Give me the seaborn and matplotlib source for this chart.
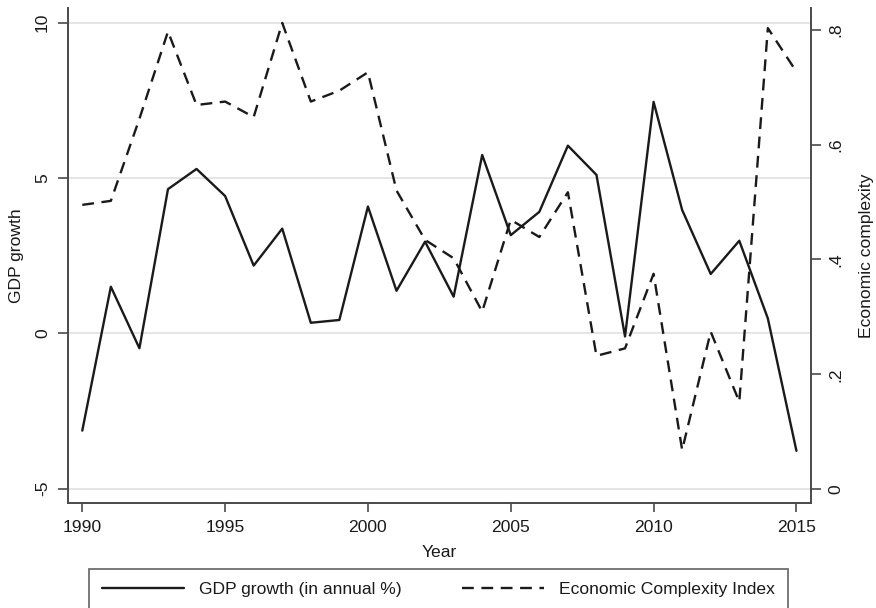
import matplotlib
matplotlib.use("Agg")
import matplotlib.pyplot as plt
import seaborn as sns
import pandas as pd

# Annual series
years = list(range(1990, 2016))
gdp_growth = [-3.13, 1.50, -0.48, 4.64, 5.29, 4.42, 2.18, 3.37, 0.34, 0.43,
              4.08, 1.37, 2.95, 1.18, 5.74, 3.16, 3.91, 6.04, 5.10, -0.10,
              7.45, 3.97, 1.91, 2.98, 0.48, -3.78]
eci = [0.495, 0.502, 0.645, 0.797, 0.669, 0.675, 0.648, 0.812, 0.675, 0.694,
       0.726, 0.520, 0.434, 0.402, 0.309, 0.469, 0.439, 0.517, 0.232, 0.245,
       0.375, 0.068, 0.274, 0.152, 0.803, 0.727]

x_ticks = [1990, 1995, 2000, 2005, 2010, 2015]
left_ticks = [-5, 0, 5, 10]
left_labels = ["-5", "0", "5", "10"]
right_ticks = [0, 0.2, 0.4, 0.6, 0.8]
right_labels = ["0", ".2", ".4", ".6", ".8"]

df = pd.DataFrame({"Year": years, "gdp": gdp_growth, "eci": eci})

sns.set_theme(style="white")
plt.rcParams["font.family"] = ["Liberation Sans", "DejaVu Sans"]

ink = "#1a1a1a"
axis_col = "#4a4a4a"
fs = 12.6

fig = plt.figure(figsize=(8.76, 6.08), dpi=100)
ax = fig.add_axes([68 / 876, 105 / 608, (810.7 - 68) / 876, (503 - 8) / 608])
ax2 = ax.twinx()

sns.lineplot(data=df, x="Year", y="gdp", ax=ax, color=ink, linewidth=1.7,
             label="GDP growth (in annual %)", legend=False)
sns.lineplot(data=df, x="Year", y="eci", ax=ax2, color=ink, linewidth=1.7,
             linestyle=(0, (5, 3.2)), label="Economic Complexity Index",
             legend=False)

ax.set_xlim(1989.5, 2015.5)
ax.set_ylim(-5.46, 10.47)
ax2.set_ylim(-0.0244, 0.838)

ax.set_xticks(x_ticks)
ax.set_xticklabels([str(t) for t in x_ticks])
ax.set_yticks(left_ticks)
ax.set_yticklabels(left_labels)
ax2.set_yticks(right_ticks)
ax2.set_yticklabels(right_labels)

ax.grid(axis="y", color="#e3e3e3", linewidth=1.3)
ax.grid(axis="x", visible=False)
ax2.grid(False)

for a in (ax, ax2):
    for side in ("left", "right", "bottom", "top"):
        a.spines[side].set_visible(False)
ax.spines["left"].set_visible(True)
ax.spines["bottom"].set_visible(True)
ax2.spines["right"].set_visible(True)
for sp in (ax.spines["left"], ax.spines["bottom"], ax2.spines["right"]):
    sp.set_color(axis_col)
    sp.set_linewidth(1.4)

ax.tick_params(axis="x", bottom=True, length=6.5, width=1.2, color=axis_col,
               labelsize=fs, pad=6, labelcolor=ink)
ax.tick_params(axis="y", left=True, length=7, width=1.2, color=axis_col,
               labelsize=fs, pad=6, labelcolor=ink)
ax2.tick_params(axis="y", right=True, length=7, width=1.2, color=axis_col,
                labelsize=fs, pad=6, labelcolor=ink)
for lab in ax.get_yticklabels():
    lab.set_rotation(90)
    lab.set_va("center")
for lab in ax2.get_yticklabels():
    lab.set_rotation(90)
    lab.set_va("center")

ax.set_xlabel("Year", fontsize=fs, color=ink, labelpad=7)
ax.set_ylabel("GDP growth", fontsize=fs, color=ink, labelpad=8)
ax2.set_ylabel("Economic complexity", fontsize=fs, color=ink, labelpad=11,
               rotation=90)

handles = ax.get_lines()[:1] + ax2.get_lines()[:1]
labels = ["GDP growth (in annual %)", "Economic Complexity Index"]
leg = fig.legend(handles, labels, loc="upper left", ncol=2, mode="expand",
                 bbox_to_anchor=(89 / 876, 39 / 608, (788 - 89) / 876, 0.0),
                 frameon=True, fancybox=False, fontsize=fs, handlelength=4.7,
                 handletextpad=0.85, borderpad=0.75, borderaxespad=0.0)
leg.get_frame().set_edgecolor(axis_col)
leg.get_frame().set_linewidth(1.3)
for t in leg.get_texts():
    t.set_color(ink)

fig.savefig("out.png", dpi=100, facecolor="white")
